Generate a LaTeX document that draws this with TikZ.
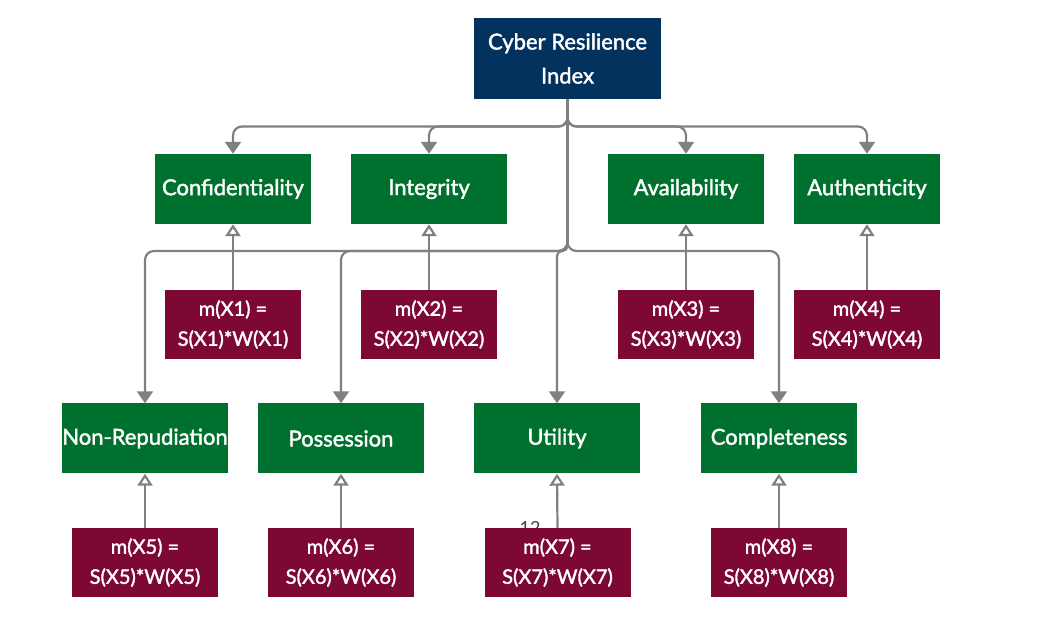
\documentclass[tikz,border=0pt]{standalone}
\usepackage{fontspec}
\setmainfont{Lato}
\newfontfamily\boxfont{Lato}[FakeBold=1.8]
\usetikzlibrary{arrows.meta}
\definecolor{navy}{RGB}{4,50,94}
\definecolor{dgreen}{RGB}{0,112,46}
\definecolor{maroon}{RGB}{126,8,52}
\definecolor{lgray}{RGB}{128,128,128}
\tikzset{
  box/.style={draw=none, text=white, align=center, inner sep=0pt, font=\boxfont\fontsize{22}{34}\selectfont},
  topbox/.style={box, fill=navy, minimum width=187pt, minimum height=81pt},
  catbox/.style={box, fill=dgreen, minimum width=156pt, minimum height=70pt},
  metbox/.style={box, fill=maroon, minimum width=136pt, minimum height=69pt, font=\boxfont\fontsize{20}{30}\selectfont},
  conn/.style={draw=lgray, line width=2.2pt, rounded corners=9pt, -{Triangle[width=16pt,length=12pt]}},
  feed/.style={draw=lgray, line width=2.2pt, -{Triangle[open,width=15pt,length=12pt,fill=white]}}
}
\begin{document}
\begin{tikzpicture}[x=1pt,y=-1pt]
\useasboundingbox (0,0) rectangle (1037,617);
% stray label, partly hidden behind the m(X7) box
\node[text=black!75, font=\fontsize{18}{22}\selectfont, anchor=north, inner sep=0pt] (stray) at (530,521) {12};

\node[topbox] (cri) at (567.5,58.5) {Cyber Resilience\\Index};

\node[catbox] (conf) at (233,189) {Confidentiality};
\node[catbox] (integ) at (429,189) {Integrity};
\node[catbox] (avail) at (686,189) {Availability};
\node[catbox, minimum width=146pt] (auth) at (867,189) {Authenticity};

\node[catbox, minimum width=166pt] (nonrep) at (145,438.5) {Non-Repudiation};
\node[catbox, minimum width=166pt] (poss) at (341,438.5) {Possession};
\node[catbox, minimum width=166pt] (util) at (557,438.5) {Utility};
\node[catbox] (compl) at (779,438.5) {Completeness};

\node[metbox] (m1) at (233,324.5) {m(X1) =\\S(X1)*W(X1)};
\node[metbox] (m2) at (429,324.5) {m(X2) =\\S(X2)*W(X2)};
\node[metbox] (m3) at (686,324.5) {m(X3) =\\S(X3)*W(X3)};
\node[metbox, minimum width=146pt] (m4) at (867,324.5) {m(X4) =\\S(X4)*W(X4)};

\node[metbox, minimum width=146pt] (m5) at (145,562.5) {m(X5) =\\S(X5)*W(X5)};
\node[metbox, minimum width=146pt] (m6) at (341,562.5) {m(X6) =\\S(X6)*W(X6)};
\node[metbox, minimum width=146pt] (m7) at (557.5,562.5) {m(X7) =\\S(X7)*W(X7)};
\node[metbox] (m8) at (779,562.5) {m(X8) =\\S(X8)*W(X8)};

\coordinate (j1) at (567.5,126.5);
\coordinate (j2) at (567.5,251);

% top level connectors
\foreach \t in {conf,integ,avail,auth}
  \draw[conn] (cri.south) |- (\t.north |- j1) -- (\t.north);
% second level connectors
\foreach \t in {nonrep,poss,compl}
  \draw[conn] (cri.south) |- (\t.north |- j2) -- (\t.north);
\draw[conn, rounded corners=5pt] (cri.south) |- (util.north |- j2) -- (util.north);

% feeding metrics
\draw[feed] (m1) -- (conf);
\draw[feed] (m2) -- (integ);
\draw[feed] (m3) -- (avail);
\draw[feed] (m4) -- (auth);
\draw[feed] (m5) -- (nonrep);
\draw[feed] (m6) -- (poss);
\draw[feed] (m7.north) -- (util.south);
\draw[feed] (m8) -- (compl);
\end{tikzpicture}
\end{document}
